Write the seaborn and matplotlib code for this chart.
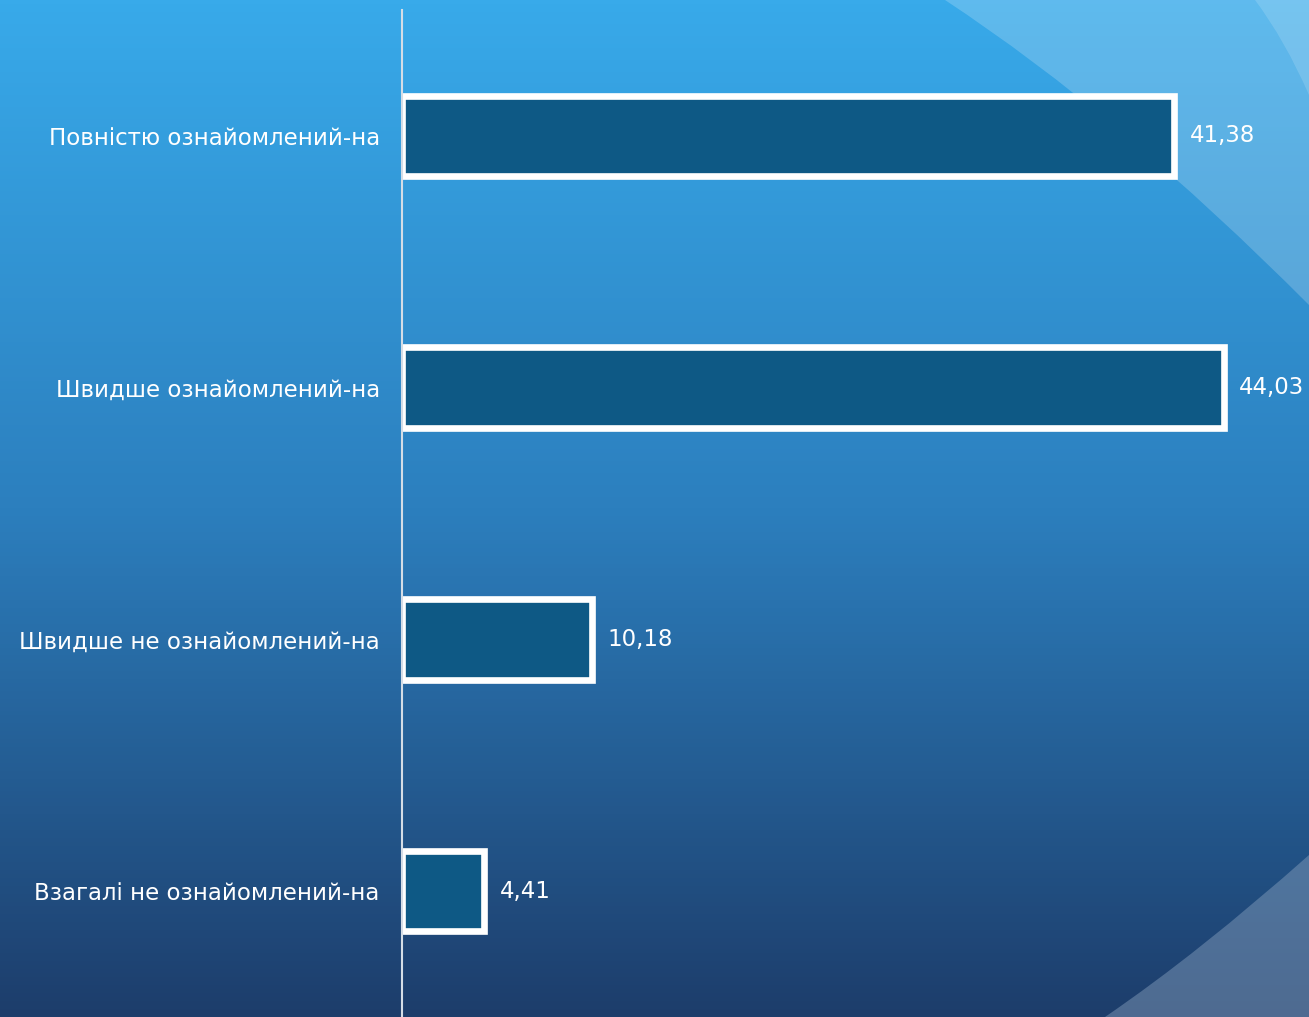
import numpy as np
import pandas as pd
import matplotlib
matplotlib.use("Agg")
import matplotlib.pyplot as plt
from matplotlib.colors import LinearSegmentedColormap
from matplotlib.patches import PathPatch
from matplotlib.path import Path
import seaborn as sns

# data
categories = [
    "Повністю ознайомлений-на",
    "Швидше ознайомлений-на",
    "Швидше не ознайомлений-на",
    "Взагалі не ознайомлений-на",
]
values = [41.38, 44.03, 10.18, 4.41]
value_labels = ["41,38", "44,03", "10,18", "4,41"]

W, H = 1309, 1017
sns.set_theme(style="white")
plt.rcParams["font.family"] = ["DejaVu Sans"]

fig = plt.figure(figsize=(W / 100, H / 100), dpi=100)

# ── background gradient + decorative shapes ─────────────────────
bg = fig.add_axes([0, 0, 1, 1], zorder=0)
bg_cmap = LinearSegmentedColormap.from_list("bg", ["#38aaea", "#2c7fbe", "#1d3d6b"])
grad = np.linspace(0, 1, 256).reshape(-1, 1)
bg.imshow(grad, cmap=bg_cmap, aspect="auto", extent=[0, W, H, 0])
bg.set_xlim(0, W)
bg.set_ylim(H, 0)
bg.axis("off")


def curved(p0, ctrl, p1, closing):
    verts = [p0, ctrl, p1] + closing + [p0]
    codes = [Path.MOVETO, Path.CURVE3, Path.CURVE3] + [Path.LINETO] * len(closing) + [Path.CLOSEPOLY]
    return Path(verts, codes)


band = curved((945, 0), (1120, 115), (1309, 305), [(W, 0)])
bg.add_patch(PathPatch(band, color="white", alpha=0.2, lw=0))
stripe = curved((1255, 0), (1285, 40), (1309, 95), [(W, 0)])
bg.add_patch(PathPatch(stripe, color="white", alpha=0.15, lw=0))
corner = curved((1105, H), (1200, 952), (1309, 855), [(W, H)])
bg.add_patch(PathPatch(corner, color="#8aa3c0", alpha=0.45, lw=0))

# ── bar chart ───────────────────────────────────────────────────
ax = fig.add_axes([402 / W, 0, 1 - 402 / W, 1 - 10 / H], zorder=1)
ax.patch.set_alpha(0)
df = pd.DataFrame({"cat": categories, "val": values})
sns.barplot(data=df, x="val", y="cat", orient="h", color="#0e5985",
            width=0.32, edgecolor="white", linewidth=4.8, saturation=1, ax=ax)

ax.bar_label(ax.containers[0], labels=value_labels, padding=11,
             color="white", fontsize=16.5)
ax.set_xlim(0, 48.6)
ax.set_ylim(3.5, -0.5)
ax.set_xlabel("")
ax.set_ylabel("")
ax.set_xticks([])
ax.tick_params(axis="y", length=0, pad=16, labelsize=16.5, labelcolor="white")
for s in ["top", "right", "bottom"]:
    ax.spines[s].set_visible(False)
ax.spines["left"].set_color("#d5dde6")
ax.spines["left"].set_linewidth(1.5)

fig.savefig("out.png", dpi=100)
